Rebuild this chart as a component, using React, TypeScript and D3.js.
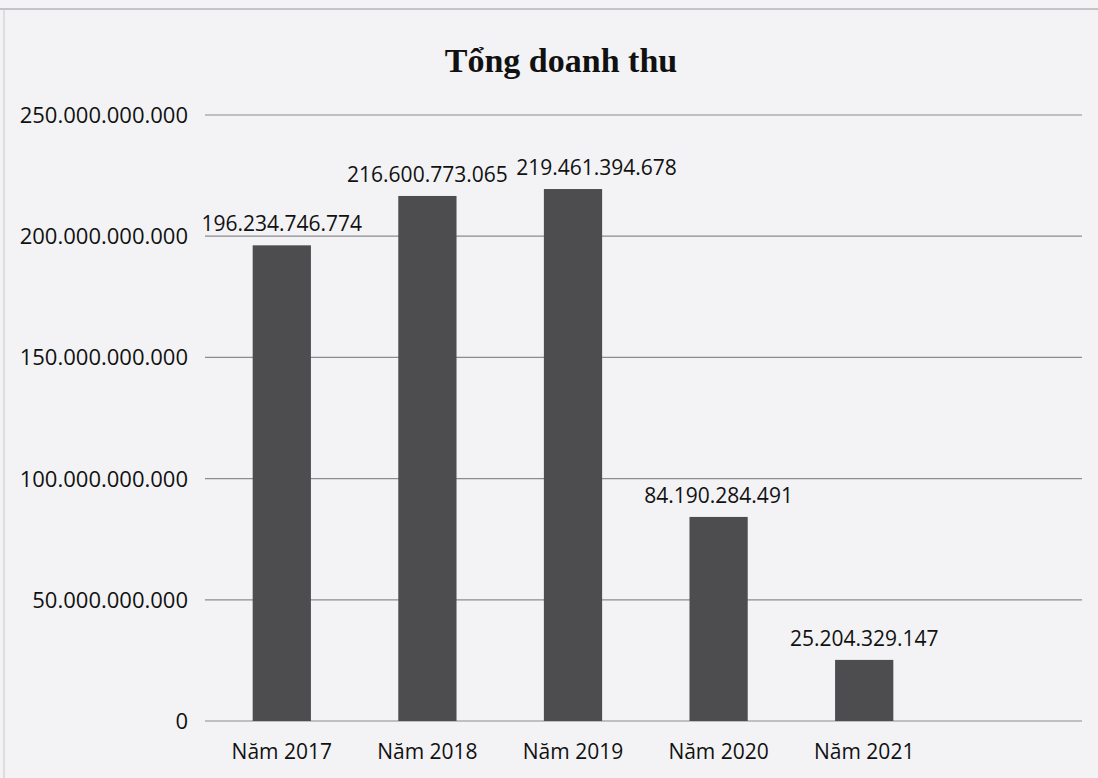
import React from 'react';
import * as d3 from 'd3';

// chart data
const categories = ['Năm 2017', 'Năm 2018', 'Năm 2019', 'Năm 2020', 'Năm 2021'];
const revenue = [196234746774, 216600773065, 219461394678, 84190284491, 25204329147];
const yTicks = [0, 50000000000, 100000000000, 150000000000, 200000000000, 250000000000];

const width = 1098;
const height = 778;

// thousands separated by dots, as in the Vietnamese original
const fmt = (v: number) => d3.format(',')(v).replace(/,/g, '.');

// rough text width for Open Sans digits/dots
const textWidth = (s: string, size: number) =>
  s.split('').reduce((w, ch) => w + (ch === '.' ? 0.27 : 0.572) * size, 0);

const App: React.FC = () => {
  const x = d3.scaleBand<string>()
    .domain(categories)
    .range([209, 937])
    .paddingInner(0.6)
    .paddingOuter(0.3);

  const y = d3.scaleLinear()
    .domain([0, 250000000000])
    .range([721, 115]);

  const gridLeft = 205;
  const gridRight = 1082;
  const sans = '"Open Sans", "Noto Sans", sans-serif';
  const labelSize = 21;

  // value labels: centred on bars, pushed right when they would collide (like Excel does)
  const labels: { text: string; cx: number; y: number }[] = [];
  categories.forEach((c, i) => {
    const text = fmt(revenue[i]);
    const w = textWidth(text, labelSize);
    let cx = (x(c) ?? 0) + x.bandwidth() / 2;
    const ly = y(revenue[i]) - 14;
    const prev = labels[i - 1];
    if (prev && Math.abs(prev.y - ly) < labelSize) {
      const prevRight = prev.cx + textWidth(prev.text, labelSize) / 2;
      if (cx - w / 2 < prevRight + 8) cx = prevRight + 8 + w / 2;
    }
    labels.push({ text, cx, y: ly });
  });

  return (
    <svg
      width={width}
      height={height}
      style={{ position: 'absolute', left: 0, top: 0, display: 'block' }}
    >
      <rect x={0} y={0} width={width} height={height} fill="#f3f3f5" />
      {/* page frame of the scan */}
      <line x1={0} x2={width} y1={9} y2={9} stroke="#b5b5b8" strokeWidth={1.5} />
      <line x1={4} x2={4} y1={9} y2={height} stroke="#c8c8cb" strokeWidth={1} />

      <text
        x={561}
        y={72}
        textAnchor="middle"
        fontFamily='"Liberation Serif", "Times New Roman", serif'
        fontWeight="bold"
        fontSize={34}
        fill="#111"
      >
        Tổng doanh thu
      </text>

      {/* gridlines + y labels */}
      {yTicks.map(t => (
        <g key={t}>
          <line
            x1={gridLeft}
            x2={gridRight}
            y1={y(t)}
            y2={y(t)}
            stroke="#8c8c90"
            strokeWidth={1.2}
          />
          <text
            x={188}
            y={y(t)}
            dy="0.36em"
            textAnchor="end"
            fontFamily={sans}
            fontSize={22}
            fill="#111"
          >
            {fmt(t)}
          </text>
        </g>
      ))}

      {/* bars */}
      {categories.map((c, i) => (
        <rect
          key={c}
          x={x(c)}
          y={y(revenue[i])}
          width={x.bandwidth()}
          height={y(0) - y(revenue[i])}
          fill="#4d4d50"
        />
      ))}

      {/* value labels */}
      {labels.map(l => (
        <text
          key={l.text}
          x={l.cx}
          y={l.y}
          textAnchor="middle"
          fontFamily={sans}
          fontSize={labelSize}
          fill="#111"
        >
          {l.text}
        </text>
      ))}

      {/* category labels */}
      {categories.map(c => (
        <text
          key={c}
          x={(x(c) ?? 0) + x.bandwidth() / 2}
          y={759}
          textAnchor="middle"
          fontFamily={sans}
          fontSize={21}
          fill="#111"
        >
          {c}
        </text>
      ))}
    </svg>
  );
};

export default App;
